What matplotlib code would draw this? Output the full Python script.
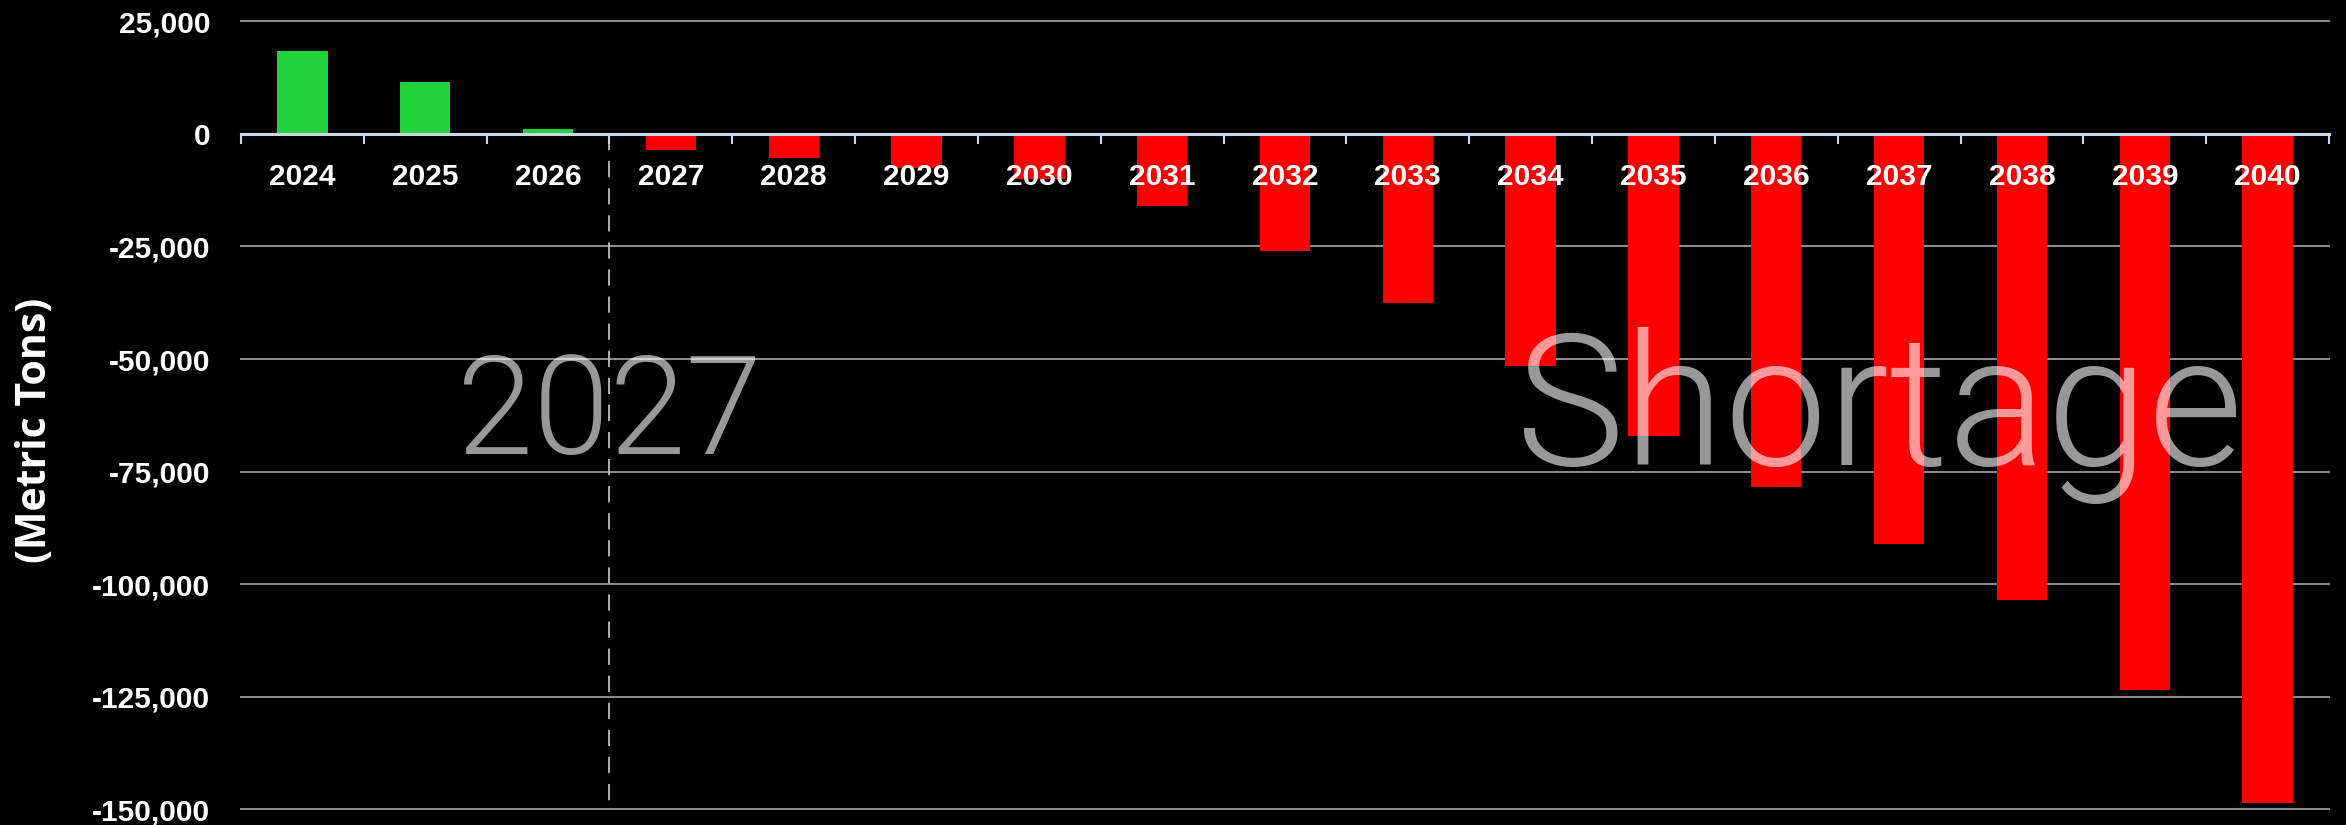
import matplotlib
matplotlib.use("Agg")
import matplotlib.pyplot as plt
from matplotlib.ticker import FuncFormatter, FixedLocator
import numpy as np

years = ["2024", "2025", "2026", "2027", "2028", "2029", "2030", "2031", "2032",
         "2033", "2034", "2035", "2036", "2037", "2038", "2039", "2040"]
balance = [18300, 11600, 1000, -3500, -5300, -7500, -10000, -16000, -26000,
           -37500, -51500, -67000, -78500, -91000, -103500, -123500, -148500]
y_ticks = [25000, 0, -25000, -50000, -75000, -100000, -125000, -150000]
y_label = "(Metric Tons)"
marker_text = "2027"
shortage_text = "Shortage"

GREEN = "#22d33e"
RED = "#ff0000"

fig = plt.figure(figsize=(23.46, 8.25), dpi=100, facecolor="black")
ax = fig.add_axes([241 / 2346, 15.7 / 825, 2088 / 2346, 788 / 825])
ax.set_facecolor("black")

x = np.arange(len(years))
colors = [GREEN if v >= 0 else RED for v in balance]
ax.bar(x, balance, width=0.41, color=colors, zorder=2)

ax.set_xlim(-0.5, len(years) - 0.5)
ax.set_ylim(-150000, 25000)

# gridlines
ax.yaxis.set_major_locator(FixedLocator(y_ticks))
ax.yaxis.set_major_formatter(FuncFormatter(lambda v, p: f"{int(v):,}"))
ax.grid(axis="y", color="#8a8a8a", linewidth=1.5, zorder=0)
ax.yaxis.set_zorder(0.5)
for gl in ax.yaxis.get_gridlines():
    gl.set_clip_on(False)

# x axis at zero
for s in ["top", "right", "left"]:
    ax.spines[s].set_visible(False)
ax.spines["bottom"].set_position(("data", 0))
ax.spines["bottom"].set_color("#c8d8ea")
ax.spines["bottom"].set_linewidth(2.2)
ax.spines["bottom"].set_zorder(4)

ax.set_xticks(x)
ax.set_xticklabels(years)
ax.set_xticks(np.arange(-0.5, len(years)), minor=True)
ax.tick_params(axis="x", which="major", length=0, pad=21, colors="white",
               labelsize=21.5)
ax.tick_params(axis="x", which="minor", length=7.5, width=1.5, color="#c8d8ea",
               direction="out")
ax.xaxis.set_zorder(5)
ax.tick_params(axis="y", length=0, pad=22, colors="white", labelsize=21.5)

for lab in ax.get_xticklabels() + ax.get_yticklabels():
    lab.set_fontfamily(["Liberation Sans", "DejaVu Sans"])
    lab.set_fontweight("bold")
    lab.set_color("white")

# dashed divider
ax.plot([2.5, 2.5], [0, -150000], color="#bdbdbd", linewidth=1.3,
        linestyle=(0, (9, 6)), zorder=3, clip_on=False)

# large overlay texts
ax.text(2.5, -71000, marker_text, ha="center", va="baseline", fontsize=99,
        family=["Roboto", "DejaVu Sans"], fontweight=300, color="white",
        alpha=0.6, zorder=6)
ax.text(12.84, -73600, shortage_text, ha="center", va="baseline", fontsize=132,
        family=["Roboto", "DejaVu Sans"], fontweight=300, color="white",
        alpha=0.6, zorder=6)

fig.text(36 / 2346, 1 - 430 / 825, y_label, rotation=90, ha="center", va="center",
         fontsize=29.5, fontweight="bold", color="white",
         family=["Open Sans", "DejaVu Sans"])

fig.savefig("out.png", dpi=100, facecolor="black")
